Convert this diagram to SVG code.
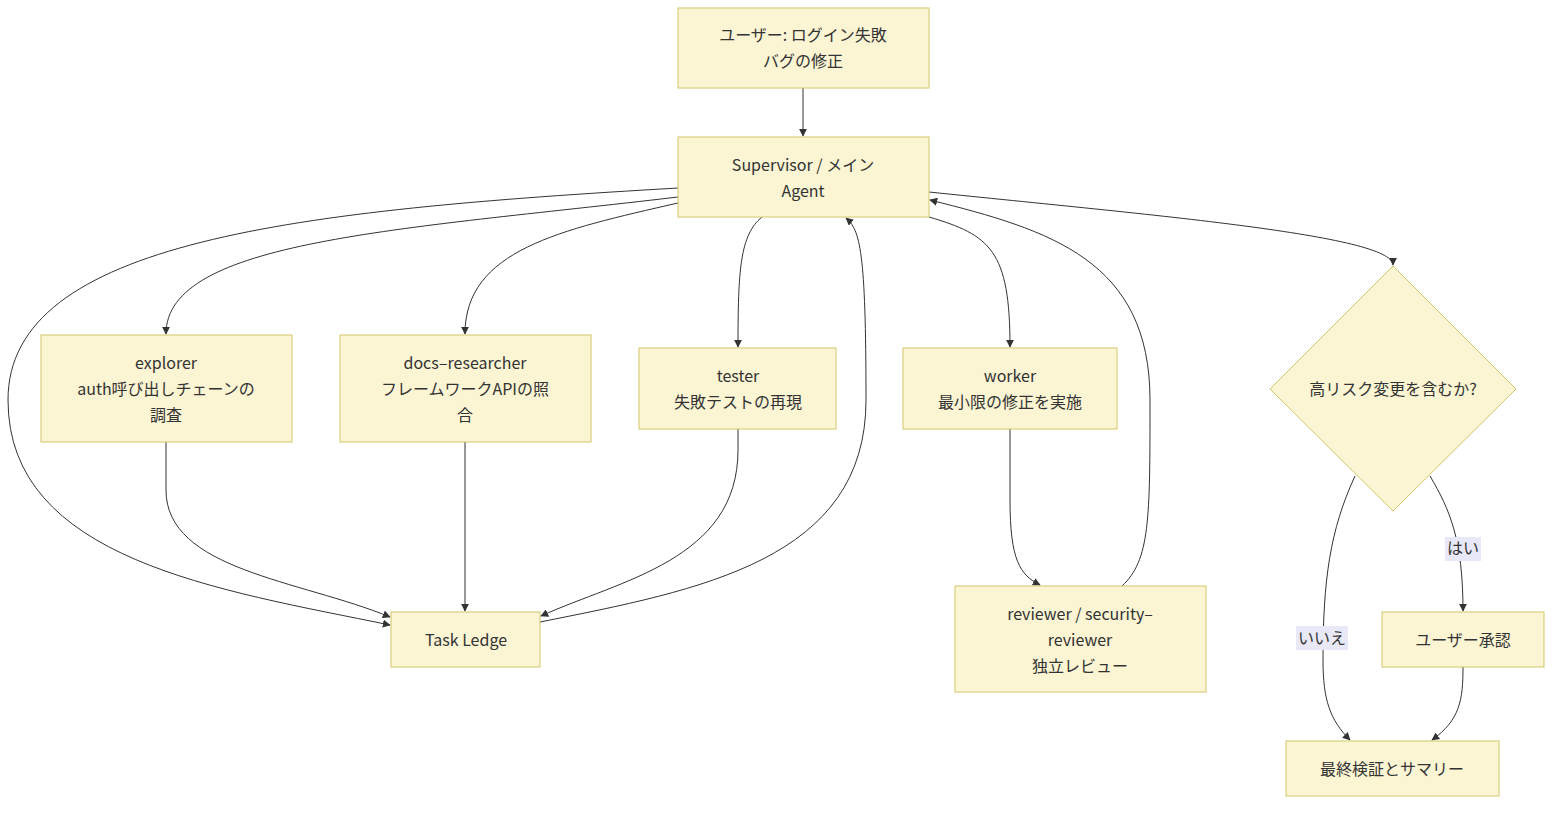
<svg xmlns="http://www.w3.org/2000/svg" width="1568" height="814" viewBox="0 0 1568 814">
<defs>
<marker id="ah" viewBox="0 0 10 10" refX="9" refY="5" markerWidth="8" markerHeight="8" orient="auto-start-reverse"><path d="M0,0 L10,5 L0,10 z" fill="#333"/></marker>
<style>
.n{fill:#fbf5d4;stroke:#d3c66a;stroke-width:1}
text{font-family:"Noto Sans CJK JP","Noto Sans",sans-serif;font-size:16px;fill:#333;text-anchor:middle}
.e{fill:none;stroke:#333;stroke-width:1;marker-end:url(#ah)}
.lb{fill:#e8e8f6}
</style>
</defs>
<rect width="1568" height="814" fill="#fff"/>
<g id="connectors">
<path class="e" d="M803,88 L803,136"/>
<path class="e" d="M678,197 C400,230 166,240 166,334"/>
<path class="e" d="M678,203 C560,230 465,250 465,334"/>
<path class="e" d="M762,217 C740,235 738,270 738,347"/>
<path class="e" d="M929,217 C990,235 1010,250 1010,347"/>
<path class="e" d="M929,192 C1150,215 1393,235 1393,265"/>
<path class="e" d="M678,188 C300,210 8,240 8,400 C8,560 220,590 390,625"/>
<path class="e" d="M166,442 L166,490 C166,570 300,580 390,617"/>
<path class="e" d="M465,442 L465,611"/>
<path class="e" d="M738,429 L738,450 C738,560 620,580 541,616"/>
<path class="e" d="M540,622 C700,590 866,560 866,400 C866,250 860,230 846,218"/>
<path class="e" d="M1010,429 L1010,500 C1010,560 1020,575 1040,585"/>
<path class="e" d="M1122,586 C1150,560 1150,520 1150,400 C1150,260 1050,230 930,200"/>
<path class="e" d="M1430,476 C1450,510 1463,540 1463,611"/>
<path class="e" d="M1355,476 C1330,530 1323,580 1323,660 C1323,700 1330,720 1350,740"/>
<path class="e" d="M1463,667 C1463,700 1460,720 1432,740"/>
<rect class="lb" x="1445" y="537" width="36" height="24"/><text x="1463" y="554">はい</text>
<rect class="lb" x="1296" y="626" width="52" height="24"/><text x="1322" y="644">いいえ</text>
</g>
<g id="user"><rect class="n" x="678" y="8" width="251" height="80"/><text x="803" y="41">ユーザー: ログイン失敗</text><text x="803" y="67">バグの修正</text></g>
<g id="sup"><rect class="n" x="678" y="137" width="251" height="80"/><text x="803" y="171">Supervisor / メイン</text><text x="803" y="197">Agent</text></g>
<g id="explorer"><rect class="n" x="41" y="335" width="251" height="107"/><text x="166" y="369">explorer</text><text x="166" y="395">auth呼び出しチェーンの</text><text x="166" y="421">調査</text></g>
<g id="docs"><rect class="n" x="340" y="335" width="251" height="107"/><text x="465" y="369">docs–researcher</text><text x="465" y="395">フレームワークAPIの照</text><text x="465" y="421">合</text></g>
<g id="tester"><rect class="n" x="639" y="348" width="197" height="81"/><text x="738" y="382">tester</text><text x="738" y="408">失敗テストの再現</text></g>
<g id="worker"><rect class="n" x="903" y="348" width="214" height="81"/><text x="1010" y="382">worker</text><text x="1010" y="408">最小限の修正を実施</text></g>
<g id="reviewer"><rect class="n" x="955" y="586" width="251" height="106"/><text x="1080" y="620">reviewer / security–</text><text x="1080" y="646">reviewer</text><text x="1080" y="672">独立レビュー</text></g>
<g id="decision"><polygon class="n" points="1393,266 1516,389 1393,511 1270,389"/><text x="1393" y="395">高リスク変更を含むか?</text></g>
<g id="ledger"><rect class="n" x="391" y="612" width="149" height="55"/><text x="466" y="646">Task Ledge</text></g>
<g id="approve"><rect class="n" x="1382" y="612" width="162" height="55"/><text x="1463" y="646">ユーザー承認</text></g>
<g id="final"><rect class="n" x="1286" y="741" width="213" height="55"/><text x="1392" y="775">最終検証とサマリー</text></g>
</svg>
